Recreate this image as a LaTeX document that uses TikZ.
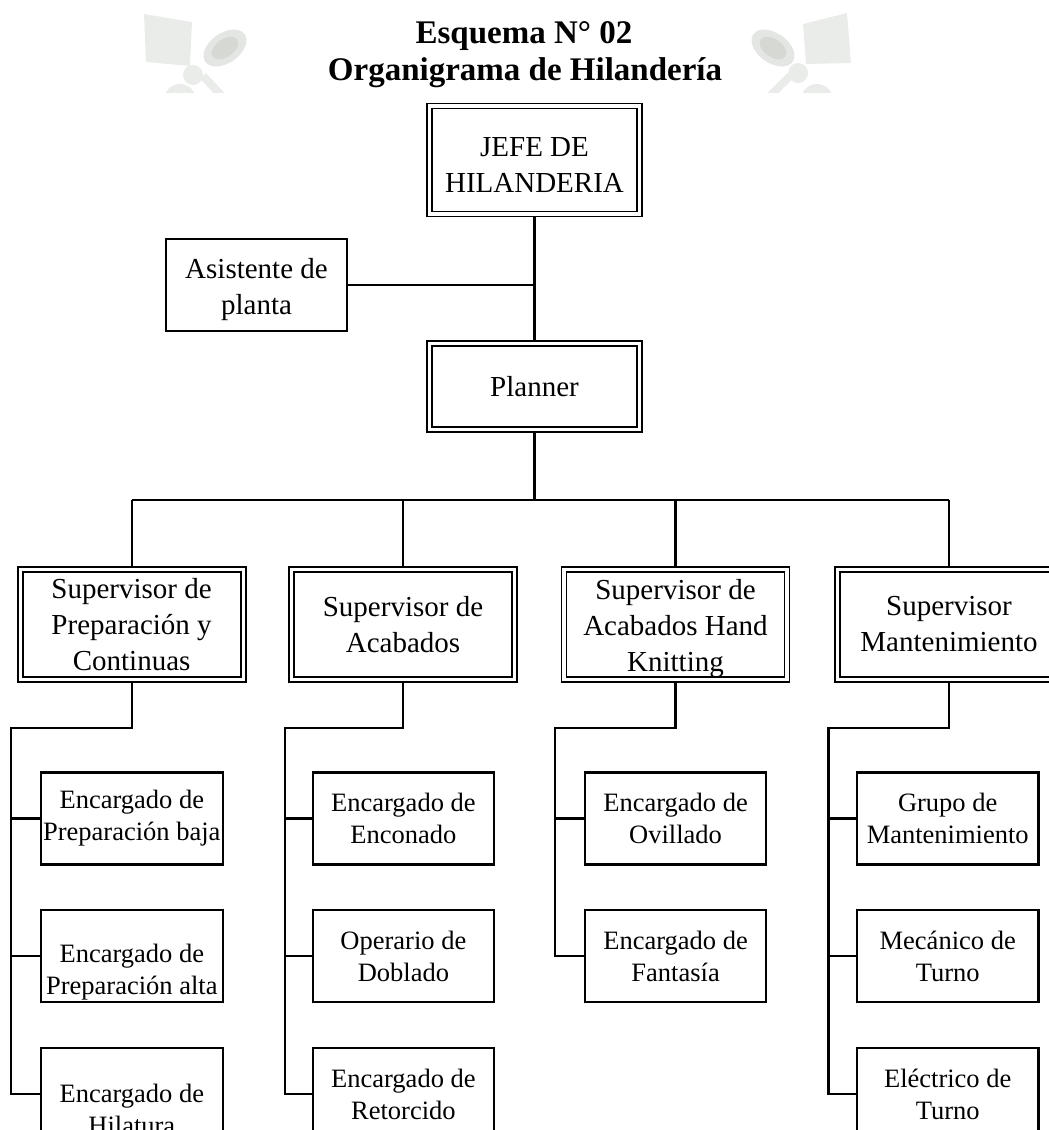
\documentclass[tikz,border=0pt]{standalone}
\usepackage{fontspec}
\setmainfont{Liberation Serif}
\usetikzlibrary{backgrounds}

\definecolor{wmlight}{HTML}{EAECE9}
\definecolor{wmmid}{HTML}{E4E6E3}
\definecolor{wmdark}{HTML}{D6D9D3}

\newcommand\titlesize{\fontsize{33}{37}\selectfont\bfseries}
\newcommand\headsize{\fontsize{29}{36}\selectfont}
\newcommand\subsize{\fontsize{26.5}{32}\selectfont}
% invisible strut that raises the first line of a box
\newcommand\toplift[1]{\rule{0pt}{#1}}

\begin{document}
\begin{tikzpicture}[x=1pt,y=-1pt,
  conn/.style={line width=2.1pt},
  busline/.style={line width=1.6pt},
  dbox/.style={draw, double, double distance=3.2pt, line width=1.8pt,
    fill=white, align=center, inner sep=0pt, outer sep=0pt, font=\headsize},
  sbox/.style={draw, line width=2.1pt, fill=white, align=center,
    inner sep=0pt, outer sep=0pt},
  headbox/.style={dbox, minimum width=210pt, minimum height=#1},
  supbox/.style={dbox, minimum width=223pt, minimum height=110pt},
  asbox/.style={sbox, font=\headsize, minimum width=181pt, minimum height=92pt},
  subbox/.style={sbox, font=\subsize, minimum width=181.5pt, minimum height=92pt},
  titletext/.style={anchor=base, inner sep=0pt, font=\titlesize}]

\useasboundingbox (0,0) rectangle (1049,1130);
\clip (0,0) rectangle (1049,1130);

% heading
\node[titletext] (title1) at (524,43) {Esquema N° 02};
\node[titletext] (title2) at (525,80) {Organigrama de Hilandería};

% upper levels
\node[headbox=108pt] (jefe) at (534.5,160) {\toplift{29pt}JEFE DE\\HILANDERIA};
\node[asbox] (asist) at (256.5,285) {\toplift{30pt}Asistente de\\planta};
\node[headbox=86pt] (plan) at (534.5,386.5) {Planner};

% supervisors
\node[supbox] (sA) at (131.6,624.5) {Supervisor de\\Preparación y\\Continuas};
\node[supbox] (sB) at (403,624.5) {Supervisor de\\Acabados};
\node[supbox] (sC) at (675.5,624.5) {\toplift{28pt}Supervisor de\\Acabados Hand\\Knitting};
\node[supbox] (sD) at (949,624.5) {Supervisor\\Mantenimiento};

% staff under each supervisor
\node[subbox] (cA1) at (131.8,818.5) {Encargado de\\Preparación baja};
\node[subbox] (cA2) at (131.8,956.2) {\toplift{50pt}Encargado de\\Preparación alta};
\node[subbox] (cA3) at (131.8,1094) {\toplift{50pt}Encargado de\\Hilatura};

\node[subbox] (cB1) at (403.4,818.5) {Encargado de\\Enconado};
\node[subbox] (cB2) at (403.4,956.2) {Operario de\\Doblado};
\node[subbox] (cB3) at (403.4,1094) {Encargado de\\Retorcido};

\node[subbox] (cC1) at (675.6,818.5) {Encargado de\\Ovillado};
\node[subbox] (cC2) at (675.6,956.2) {Encargado de\\Fantasía};

\node[subbox] (cD1) at (947.7,818.5) {Grupo de\\Mantenimiento};
\node[subbox] (cD2) at (947.7,956.2) {Mecánico de\\Turno};
\node[subbox] (cD3) at (947.7,1094) {Eléctrico de\\Turno};

\begin{scope}[on background layer]
  % faint logos behind the heading
  \begin{scope}
    \clip (0,0) rectangle (1049,92);
    % left logo
    \fill[wmlight] (144,14) -- (192,22) -- (190,66) -- (146,62) -- cycle;
    \fill[wmmid, rotate around={35:(225,48)}] (225,48) ellipse [x radius=24, y radius=15];
    \fill[wmdark, rotate around={35:(225,48)}] (225,48) ellipse [x radius=15, y radius=9];
    \fill[wmlight] (193,75) circle [radius=10];
    \fill[wmlight] (180,100) circle [radius=16];
    \draw[wmlight, line width=8pt] (203,76) -- (222,96);
    % right logo
    \fill[wmlight] (803,24) -- (847,13) -- (851,63) -- (806,64) -- cycle;
    \fill[wmmid, rotate around={-35:(773,48)}] (773,48) ellipse [x radius=24, y radius=15];
    \fill[wmdark, rotate around={-35:(773,48)}] (773,48) ellipse [x radius=15, y radius=9];
    \fill[wmlight] (798,73) circle [radius=10];
    \fill[wmlight] (817,100) circle [radius=16];
    \draw[wmlight, line width=8pt] (790,76) -- (770,96);
  \end{scope}

  % connectors
  \coordinate (bus) at (534.5,500);
  \draw[conn] (jefe.south) -- (plan.north);
  \draw[conn] (asist.east) -- (asist.east -| jefe.south);
  \draw[conn] (plan.south) -- (bus);
  \draw[busline] (sA.north |- bus) -- (sD.north |- bus);
  \foreach \s in {sA,sB,sC,sD}
    \draw[conn] (\s.north |- bus) -- (\s.north);

  \coordinate (eA) at (11,728);
  \coordinate (eB) at (285,728);
  \coordinate (eC) at (555,728);
  \coordinate (eD) at (828.5,728);

  \draw[conn] (sA.south) -- (sA.south |- eA) -- (eA) -- (eA |- cA3.west) -- (cA3.west);
  \draw[conn] (eA |- cA1.west) -- (cA1.west);
  \draw[conn] (eA |- cA2.west) -- (cA2.west);

  \draw[conn] (sB.south) -- (sB.south |- eB) -- (eB) -- (eB |- cB3.west) -- (cB3.west);
  \draw[conn] (eB |- cB1.west) -- (cB1.west);
  \draw[conn] (eB |- cB2.west) -- (cB2.west);

  \draw[conn] (sC.south) -- (sC.south |- eC) -- (eC) -- (eC |- cC2.west) -- (cC2.west);
  \draw[conn] (eC |- cC1.west) -- (cC1.west);

  \draw[conn] (sD.south) -- (sD.south |- eD) -- (eD) -- (eD |- cD3.west) -- (cD3.west);
  \draw[conn] (eD |- cD1.west) -- (cD1.west);
  \draw[conn] (eD |- cD2.west) -- (cD2.west);
\end{scope}
\end{tikzpicture}
\end{document}
